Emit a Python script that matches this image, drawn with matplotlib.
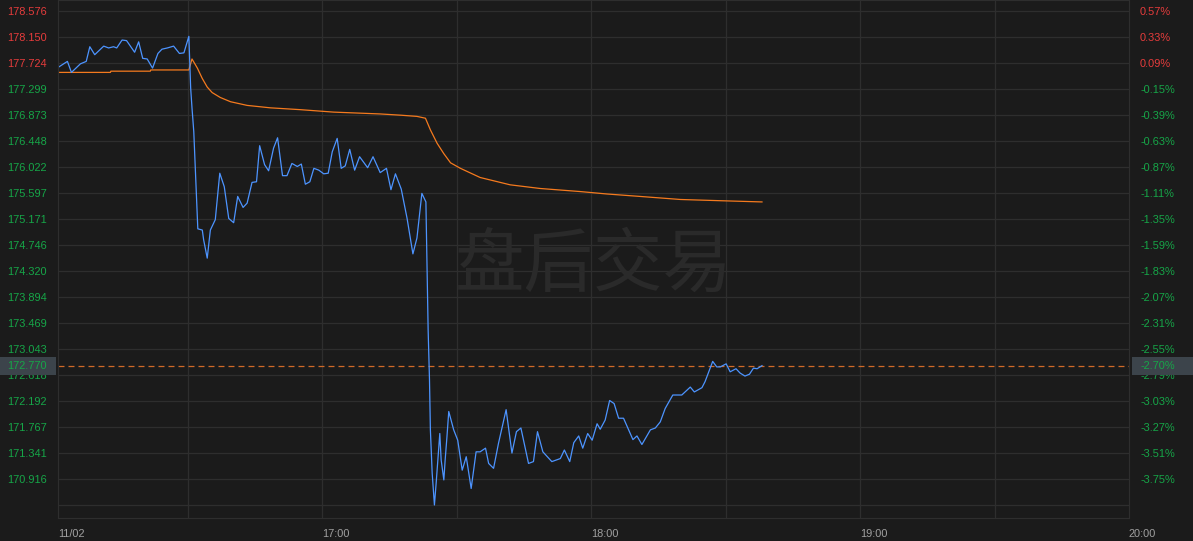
import matplotlib
matplotlib.use('Agg')
import matplotlib.pyplot as plt
import matplotlib.transforms as mtransforms
from matplotlib.patches import Rectangle

plt.rcParams['font.family'] = ['Liberation Sans', 'Noto Sans CJK SC', 'DejaVu Sans']
plt.rcParams['lines.scale_dashes'] = False

# after-hours price, minutes after 16:00
price_t = [1.2, 3.1, 4.0, 6.0, 7.3, 8.1, 9.2, 11.2, 12.3, 13.4, 14.1, 15.3, 16.3, 18.1, 19.0, 19.9,
           20.9, 22.1, 23.3, 24.2, 25.4, 26.8, 28.1, 29.1, 30.2, 30.6, 30.9, 31.3, 31.7, 31.9, 32.2,
           33.2, 33.5, 34.3, 35.0, 36.1, 37.1, 38.1, 39.1, 40.2, 41.1, 42.3, 43.2, 44.3, 45.3, 46.0,
           47.1, 48.0, 49.1, 50.0, 51.1, 52.1, 53.2, 54.4, 55.3, 56.2, 57.2, 58.1, 59.2, 60.3, 61.3,
           62.2, 63.3, 64.2, 65.1, 66.1, 67.2, 68.3, 70.1, 71.3, 72.9, 74.3, 75.3, 76.3, 77.6, 78.9,
           80.2, 81.1, 82.2, 83.1, 83.6, 83.9, 84.1, 84.5, 85.0, 85.4, 86.2, 86.5, 87.1, 87.4, 87.8,
           88.2, 89.3, 90.2, 91.2, 92.1, 93.2, 94.3, 95.2, 96.4, 97.1, 98.2, 99.3, 101.0, 102.3, 103.3,
           104.3, 106.0, 107.1, 108.0, 109.2, 111.2, 113.1, 114.0, 115.2, 116.1, 117.2, 118.1, 119.2,
           120.2, 121.3, 122.0, 123.1, 124.1, 125.1, 126.1, 127.2, 129.3, 130.2, 131.3, 133.2, 134.3,
           135.4, 136.5, 138.2, 140.2, 142.1, 143.0, 144.7, 145.4, 147.1, 148.0, 148.8, 150.1, 151.0,
           152.3, 153.2, 154.3, 155.3, 156.2, 157.0, 158.1]
price = [177.66, 177.75, 177.57, 177.71, 177.75, 177.99, 177.86, 178.00, 177.97, 177.99, 177.97,
         178.10, 178.09, 177.90, 178.07, 177.80, 177.79, 177.64, 177.88, 177.95, 177.97, 178.00,
         177.88, 177.89, 178.16, 177.32, 176.99, 176.60, 175.92, 175.54, 175.01, 174.99, 174.83,
         174.53, 174.99, 175.16, 175.92, 175.70, 175.18, 175.11, 175.54, 175.36, 175.43, 175.77,
         175.78, 176.37, 176.06, 175.96, 176.33, 176.50, 175.88, 175.88, 176.08, 176.03, 176.07,
         175.74, 175.78, 176.00, 175.97, 175.91, 175.92, 176.27, 176.49, 176.00, 176.04, 176.31,
         175.97, 176.19, 176.01, 176.19, 175.93, 176.00, 175.65, 175.91, 175.66, 175.18, 174.60,
         174.86, 175.59, 175.45, 173.35, 172.54, 171.72, 171.01, 170.49, 170.86, 171.66, 171.23,
         170.90, 171.23, 171.61, 172.02, 171.72, 171.55, 171.06, 171.28, 170.76, 171.36, 171.36,
         171.42, 171.17, 171.09, 171.50, 172.05, 171.34, 171.69, 171.75, 171.17, 171.20, 171.69,
         171.36, 171.20, 171.25, 171.39, 171.20, 171.51, 171.62, 171.42, 171.66, 171.55, 171.82,
         171.73, 171.88, 172.20, 172.15, 171.91, 171.91, 171.56, 171.62, 171.48, 171.72, 171.75,
         171.85, 172.07, 172.29, 172.29, 172.42, 172.34, 172.41, 172.51, 172.84, 172.75, 172.75,
         172.80, 172.67, 172.72, 172.65, 172.60, 172.63, 172.73, 172.72, 172.77]

# average price line
avg_t = [1.1, 12.7, 12.8, 21.6, 21.7, 30.2, 30.9, 32.1, 33.2, 34.3, 35.4, 37.2, 39.5, 43.2, 48.4,
         55.1, 62.5, 72.9, 77.4, 81.1, 83.0, 84.1, 85.6, 87.1, 88.6, 90.8, 95.2, 101.9, 108.6,
         117.5, 123.5, 130.9, 139.9, 148.8, 158.1]
avg = [177.57, 177.57, 177.59, 177.59, 177.61, 177.61, 177.79, 177.64, 177.47, 177.33, 177.24,
       177.16, 177.09, 177.03, 176.99, 176.96, 176.92, 176.89, 176.87, 176.85, 176.82, 176.63,
       176.41, 176.24, 176.09, 176.00, 175.85, 175.73, 175.67, 175.62, 175.58, 175.54, 175.49,
       175.47, 175.45]

prev_close = 177.564
ytick_vals = [178.576, 178.150, 177.724, 177.299, 176.873, 176.448, 176.022, 175.597, 175.171,
              174.746, 174.320, 173.894, 173.469, 173.043, 172.618, 172.192, 171.767, 171.341, 170.916]
pct_labels = ['0.57%', '0.33%', '0.09%', '-0.15%', '-0.39%', '-0.63%', '-0.87%', '-1.11%', '-1.35%',
              '-1.59%', '-1.83%', '-2.07%', '-2.31%', '-2.55%', '-2.79%', '-3.03%', '-3.27%',
              '-3.51%', '-3.75%']
xtick_min = [1, 60, 120, 180, 240]
xtick_labels = ['11/02', '17:00', '18:00', '19:00', '20:00']

BG = '#1b1b1b'
GRID = '#2e2e2e'
RED = '#e63c3c'
GREEN = '#16a648'
BLUE = '#4d94ff'
ORANGE = '#f57a1e'
FS = 7.9

W, H = 1193, 541
fig = plt.figure(figsize=(W / 100, H / 100), dpi=100, facecolor=BG)
ax = fig.add_axes([58 / W, 1 - 518 / H, (1129 - 58) / W, 518 / H])
ax.set_facecolor(BG)

step = ytick_vals[0] - ytick_vals[1]
ax.set_xlim(1, 240)
ax.set_ylim(ytick_vals[-1] - 1.5 * step, ytick_vals[0] + 0.42 * step)

for v in ytick_vals + [ytick_vals[-1] - step]:
    ax.axhline(v, color=GRID, lw=0.9, zorder=0)
for m in range(30, 240, 30):
    ax.axvline(m, color=GRID, lw=0.9, zorder=0)
for s in ax.spines.values():
    s.set_color(GRID)

ax.text(0.5, 0.487, '盘后交易', transform=ax.transAxes, ha='center', va='center',
        fontsize=50, color='#2a2a2a', family=['Noto Sans CJK SC', 'DejaVu Sans'], zorder=1)

ax.plot(avg_t, avg, color=ORANGE, lw=0.9, zorder=3)
ax.plot(price_t, price, color=BLUE, lw=0.9, zorder=4)

last = price[-1]
ax.axhline(last, color='#d06a28', lw=0.9, dashes=(4.3, 2.9), zorder=2)

ax.set_yticks(ytick_vals)
ax.set_yticklabels(['%.3f' % v for v in ytick_vals])
ax.tick_params(axis='y', length=0, pad=8, labelsize=FS)
for lbl, v in zip(ax.get_yticklabels(), ytick_vals):
    lbl.set_color(RED if v > prev_close else GREEN)

ax.set_xticks(xtick_min)
ax.set_xticklabels(xtick_labels)
ax.tick_params(axis='x', length=0, pad=8, labelsize=FS, colors='#a0a0a0')
for lbl in ax.get_xticklabels():
    lbl.set_ha('left')

ax2 = ax.twinx()
ax2.set_ylim(ax.get_ylim())
ax2.set_yticks(ytick_vals)
ax2.set_yticklabels(pct_labels)
ax2.tick_params(axis='y', length=0, pad=8, labelsize=FS)
for lbl in ax2.get_yticklabels():
    lbl.set_color(GREEN if lbl.get_text().startswith('-') else RED)
for s in ax2.spines.values():
    s.set_color(GRID)

# current price markers on both axes
trans = mtransforms.blended_transform_factory(fig.transFigure, ax.transData)
bh = 18 * (ax.get_ylim()[1] - ax.get_ylim()[0]) / 518
fig.add_artist(Rectangle((0, last - bh / 2), 56 / W, bh, transform=trans,
                         facecolor='#3c444b', edgecolor='none', zorder=5))
fig.add_artist(Rectangle((1132 / W, last - bh / 2), 1 - 1132 / W, bh, transform=trans,
                         facecolor='#3c444b', edgecolor='none', zorder=5))
fig.text(47 / W, last, '%.3f' % last, transform=trans, ha='right', va='center',
         fontsize=FS, color=GREEN, zorder=6)
fig.text(1141 / W, last, '%.2f%%' % ((last / prev_close - 1) * 100), transform=trans,
         ha='left', va='center', fontsize=FS, color=GREEN, zorder=6)

fig.savefig('out.png', dpi=100, facecolor=BG)
